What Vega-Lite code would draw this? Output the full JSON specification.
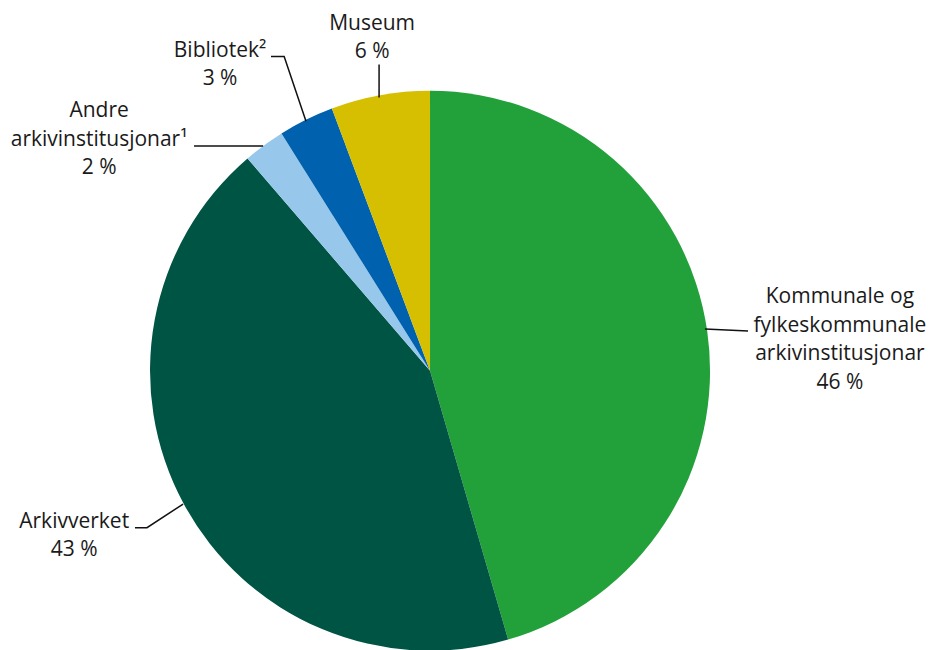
{
  "$schema": "https://vega.github.io/schema/vega-lite/v6.json",
  "width": 932,
  "height": 650,
  "padding": 0,
  "autosize": {"type": "fit", "contains": "padding"},
  "config": {"view": {"stroke": null}, "font": "Open Sans"},
  "datasets": {
    "slices": [
      {"kategori": "Kommunale og fylkeskommunale arkivinstitusjonar", "andel": 45.5, "rekkefolge": 1},
      {"kategori": "Arkivverket", "andel": 43.2, "rekkefolge": 2},
      {"kategori": "Andre arkivinstitusjonar", "andel": 2.4, "rekkefolge": 3},
      {"kategori": "Bibliotek", "andel": 3.2, "rekkefolge": 4},
      {"kategori": "Museum", "andel": 5.7, "rekkefolge": 5}
    ],
    "leaders": [
      {"id": "Museum", "seq": 1, "u": -18.2, "v": 110},
      {"id": "Museum", "seq": 2, "u": -18.2, "v": 98.2},
      {"id": "Bibliotek", "seq": 1, "u": -56.8, "v": 112.9},
      {"id": "Bibliotek", "seq": 2, "u": -52.1, "v": 112.9},
      {"id": "Bibliotek", "seq": 3, "u": -44.3, "v": 89.6},
      {"id": "Andre", "seq": 1, "u": -84.3, "v": 80.7},
      {"id": "Andre", "seq": 2, "u": -59.6, "v": 80.7},
      {"id": "Kommunale", "seq": 1, "u": 98.2, "v": 15.0},
      {"id": "Kommunale", "seq": 2, "u": 113.6, "v": 14.3},
      {"id": "Arkivverket", "seq": 1, "u": -105.4, "v": -56.4},
      {"id": "Arkivverket", "seq": 2, "u": -101.1, "v": -56.4},
      {"id": "Arkivverket", "seq": 3, "u": -88.2, "v": -47.9}
    ],
    "labels": [
      {"tekst": "Museum\n6 %", "u": -20.7, "v": 122.5},
      {"tekst": "Bibliotek²\n3 %", "u": -75.0, "v": 112.9},
      {"tekst": "Andre\narkivinstitusjonar¹\n2 %", "u": -118.2, "v": 91.1},
      {"tekst": "Kommunale og\nfylkeskommunale\narkivinstitusjonar\n46 %", "u": 146.4, "v": 24.3},
      {"tekst": "Arkivverket\n43 %", "u": -127.1, "v": -56.4}
    ]
  },
  "layer": [
    {
      "data": {"name": "slices"},
      "mark": {"type": "arc", "outerRadius": 280},
      "encoding": {
        "theta": {"field": "andel", "type": "quantitative", "stack": true},
        "order": {"field": "rekkefolge", "type": "quantitative"},
        "x": {"datum": 0, "type": "quantitative", "scale": {"domain": [-153.6, 179.3], "nice": false, "zero": false}, "axis": null},
        "y": {"datum": 0, "type": "quantitative", "scale": {"domain": [-98.9, 133.2], "nice": false, "zero": false}, "axis": null},
        "color": {
          "field": "kategori",
          "type": "nominal",
          "scale": {
            "domain": ["Kommunale og fylkeskommunale arkivinstitusjonar", "Arkivverket", "Andre arkivinstitusjonar", "Bibliotek", "Museum"],
            "range": ["#22a03a", "#005443", "#97c8ec", "#0062ae", "#d6be00"]
          },
          "legend": null
        }
      }
    },
    {
      "data": {"name": "leaders"},
      "mark": {"type": "line", "color": "#111111", "strokeWidth": 1.5},
      "encoding": {
        "x": {"field": "u", "type": "quantitative"},
        "y": {"field": "v", "type": "quantitative"},
        "detail": {"field": "id", "type": "nominal"},
        "order": {"field": "seq", "type": "quantitative"}
      }
    },
    {
      "data": {"name": "labels"},
      "mark": {"type": "text", "font": "Open Sans", "fontSize": 21, "lineBreak": "\n", "lineHeight": 28.5, "align": "center", "baseline": "alphabetic", "color": "#1a1a1a"},
      "encoding": {
        "x": {"field": "u", "type": "quantitative"},
        "y": {"field": "v", "type": "quantitative"},
        "text": {"field": "tekst", "type": "nominal"}
      }
    }
  ]
}
